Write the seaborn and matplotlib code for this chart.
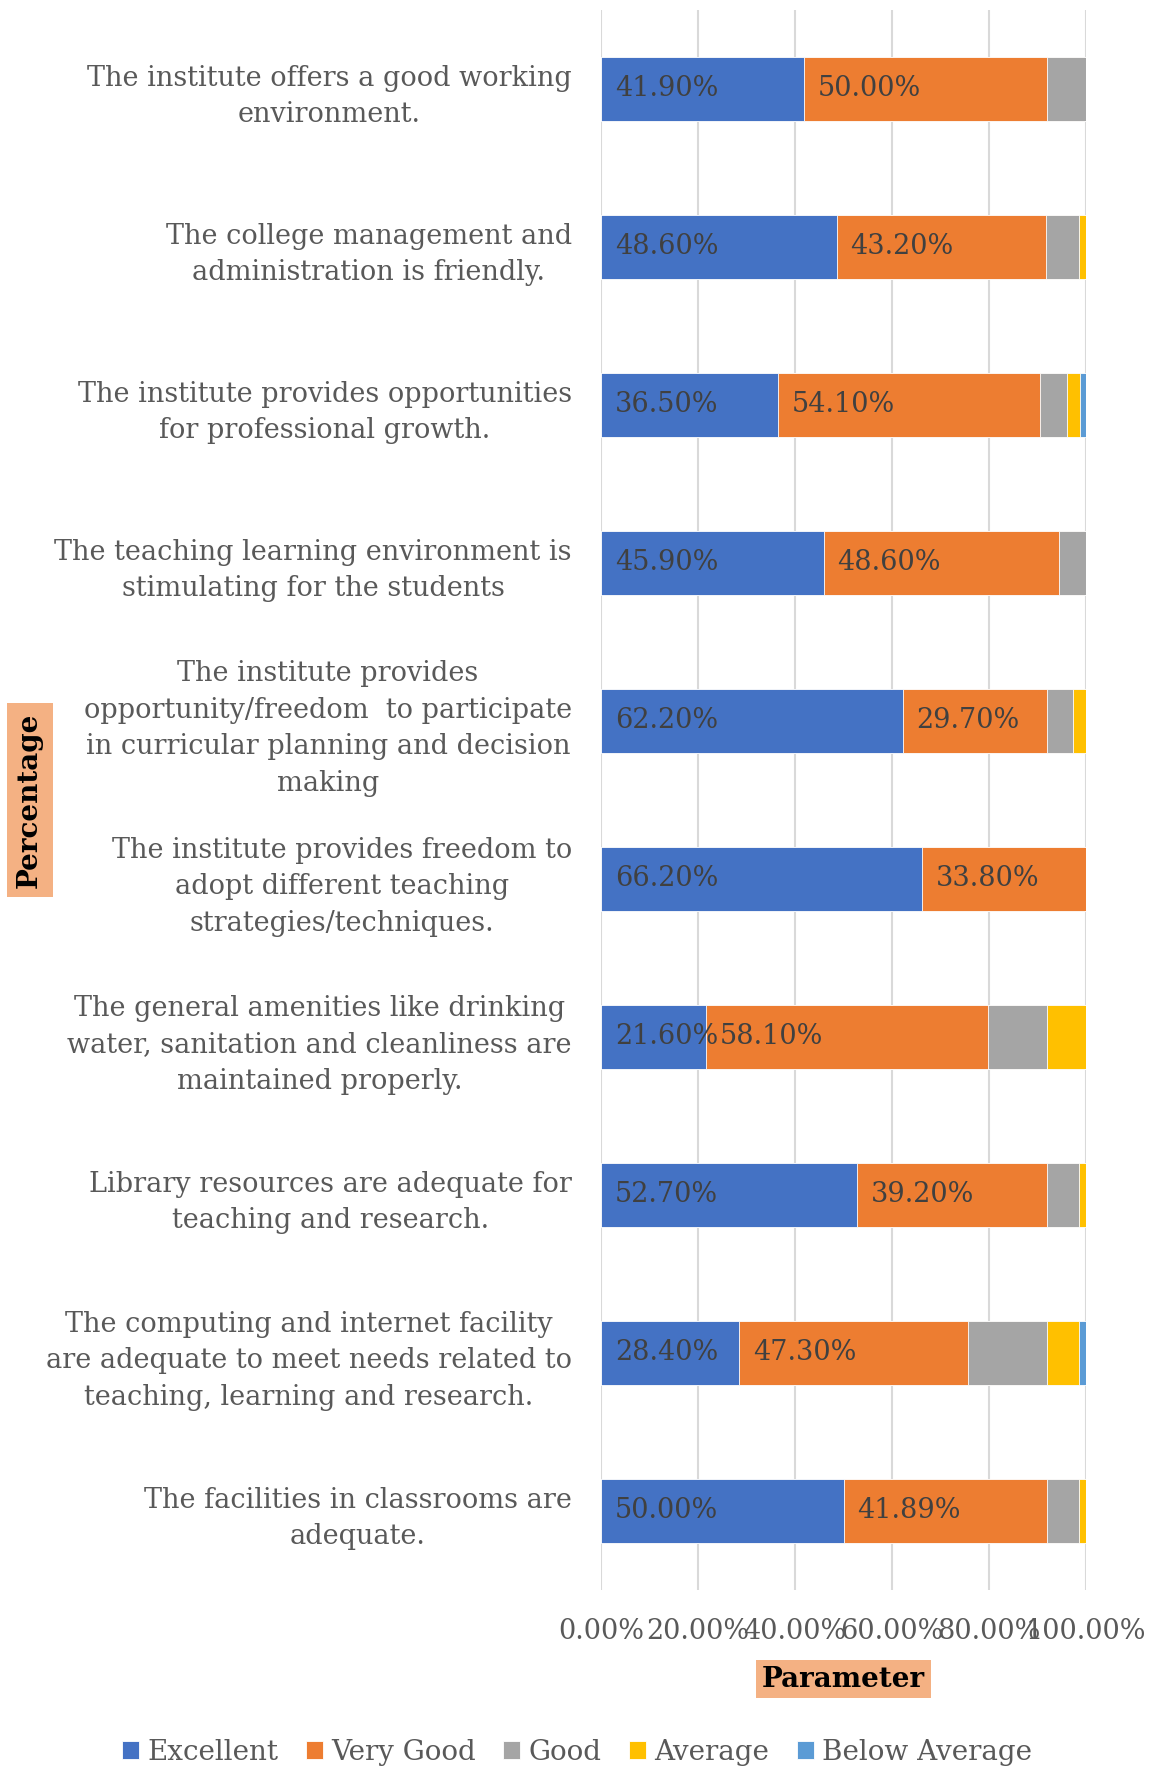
import numpy as np
import pandas as pd
import matplotlib
matplotlib.use("Agg")
import matplotlib.pyplot as plt
import seaborn as sns

sns.set_style("white")
plt.rcParams['font.family'] = ['DejaVu Serif']

# categories (top to bottom)
questions = [
    "The institute offers a good working\nenvironment.",
    "The college management and\nadministration is friendly.",
    "The institute provides opportunities\nfor professional growth.",
    "The teaching learning environment is\nstimulating for the students",
    "The institute provides\nopportunity/freedom  to participate\nin curricular planning and decision\nmaking",
    "The institute provides freedom to\nadopt different teaching\nstrategies/techniques.",
    "The general amenities like drinking\nwater, sanitation and cleanliness are\nmaintained properly.",
    "Library resources are adequate for\nteaching and research.",
    "The computing and internet facility\nare adequate to meet needs related to\nteaching, learning and research.",
    "The facilities in classrooms are\nadequate.",
]
series = ["Excellent", "Very Good", "Good", "Average", "Below Average"]
excellent = [41.9, 48.6, 36.5, 45.9, 62.2, 66.2, 21.6, 52.7, 28.4, 50.0]
very_good = [50.0, 43.2, 54.1, 48.6, 29.7, 33.8, 58.1, 39.2, 47.3, 41.89]
good = [8.1, 6.8, 5.4, 5.5, 5.4, 0.0, 12.2, 6.7, 16.2, 6.76]
average = [0.0, 1.4, 2.7, 0.0, 2.7, 0.0, 8.1, 1.4, 6.7, 1.35]
below_avg = [0.0, 0.0, 1.3, 0.0, 0.0, 0.0, 0.0, 0.0, 1.4, 0.0]
colors = ["#4472C4", "#ED7D31", "#A5A5A5", "#FFC000", "#5B9BD5"]
ticks = [0, 20, 40, 60, 80, 100]

df = pd.DataFrame({"q": questions, "Excellent": excellent, "Very Good": very_good,
                   "Good": good, "Average": average, "Below Average": below_avg})
cum = df[series].cumsum(axis=1)

fig = plt.figure(figsize=(11.54, 17.69), dpi=100)
ax = fig.add_axes([0.5208, 0.1012, 0.4203, 0.8932])

# draw stacked bars back to front (cumulative totals)
for s, c in reversed(list(zip(series, colors))):
    sns.barplot(x=cum[s], y=df["q"], orient="h", color=c, width=0.4, saturation=1,
                edgecolor="white", linewidth=0.6, ax=ax, label=s, zorder=3)

# data labels for the first two series, inside base
lefts = [np.zeros(len(df)), df["Excellent"].values]
for vals, left in zip([excellent, very_good], lefts):
    for i, (v, l) in enumerate(zip(vals, left)):
        ax.annotate(f"{v:.2f}%", xy=(l, i), xytext=(10, 0), textcoords="offset points",
                    ha="left", va="center", fontsize=19.5, color="#404040", zorder=5)

ax.set_xlim(0, 100)
ax.set_ylim(9.5, -0.5)
ax.set_xticks(ticks)
ax.set_xticklabels([f"{t:.2f}%" for t in ticks])
ax.grid(axis="x", color="#D9D9D9", linewidth=1.5, zorder=0)
ax.set_axisbelow(True)
for sp in ax.spines.values():
    sp.set_visible(False)
ax.tick_params(axis="x", length=0, pad=20, labelsize=19.5, labelcolor="#595959")
ax.tick_params(axis="y", length=0, pad=21, labelsize=19.5, labelcolor="#595959")
for lab in ax.get_yticklabels():
    lab.set_multialignment("center")
    lab.set_linespacing(1.45)

ax.set_xlabel("Parameter", fontsize=20, fontweight="bold", color="black", labelpad=15,
              bbox=dict(facecolor="#F4B183", edgecolor="none", pad=4))
ax.set_ylabel("Percentage", fontsize=20, fontweight="bold", color="black",
              bbox=dict(facecolor="#F4B183", edgecolor="none", pad=7))
ax.yaxis.set_label_coords(-1.15, 0.5)

handles, labels = ax.get_legend_handles_labels()
order = [labels.index(s) for s in series]
if ax.legend_:
    ax.legend_.remove()
fig.legend([handles[k] for k in order], series, loc="center", bbox_to_anchor=(0.5, 0.0096),
           ncol=5, frameon=False, fontsize=20, labelcolor="#595959",
           handlelength=0.6, handleheight=0.6, handletextpad=0.3, columnspacing=1.0)

fig.savefig("out.png", dpi=100)
